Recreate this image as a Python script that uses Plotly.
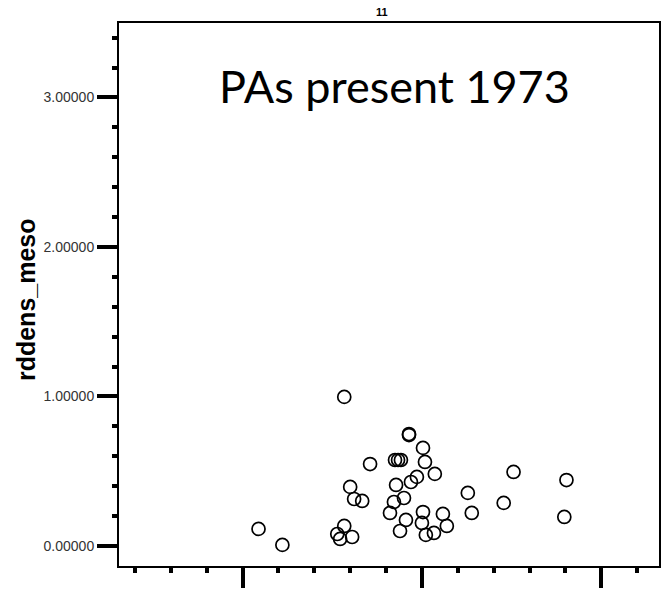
import plotly.graph_objects as go

# Scatter of road density (meso scale) against an unlabelled x variable
x_vals = [1.567, 1.089, 1.222, 1.567, 1.528, 1.544, 1.611, 1.600, 1.622, 1.667,
          1.711, 1.928, 1.928, 1.850, 1.867, 1.883, 2.006, 2.017, 2.072, 1.856,
          1.939, 1.972, 1.844, 1.900, 1.822, 1.911, 1.878, 2.006, 2.000, 2.022,
          2.067, 2.117, 2.139, 2.511, 2.806, 2.256, 2.456, 2.278, 2.794]
rddens_meso = [0.997, 0.114, 0.007, 0.134, 0.080, 0.047, 0.060, 0.395, 0.314, 0.301,
               0.548, 0.749, 0.742, 0.575, 0.575, 0.575, 0.656, 0.562, 0.482, 0.408,
               0.428, 0.462, 0.294, 0.321, 0.221, 0.174, 0.100, 0.227, 0.154, 0.074,
               0.087, 0.214, 0.134, 0.495, 0.441, 0.355, 0.288, 0.221, 0.194]

y_tick_vals = [0, 1, 2, 3]
y_tick_text = ["0.00000", "1.00000", "2.00000", "3.00000"]
x_tick_vals = [1, 2, 3]

title_text = "PAs present 1973"
y_title = "rddens_meso"

fig = go.Figure()
fig.add_trace(go.Scatter(
    x=x_vals, y=rddens_meso, mode="markers",
    marker=dict(symbol="circle-open", size=13, color="black",
                line=dict(width=1.7, color="black")),
    showlegend=False, hoverinfo="skip",
))

fig.update_layout(
    width=662, height=589,
    margin=dict(l=119, r=1, t=23, b=23),
    paper_bgcolor="white", plot_bgcolor="white",
    xaxis=dict(
        range=[0.311, 3.322], tickvals=x_tick_vals, showticklabels=False,
        ticks="outside", ticklen=20, tickwidth=4, tickcolor="black",
        minor=dict(dtick=0.2, tick0=0, ticks="outside", ticklen=5,
                   tickwidth=4, tickcolor="black"),
        showline=True, linecolor="black", linewidth=2, mirror=True,
        showgrid=False, zeroline=False,
    ),
    yaxis=dict(
        range=[-0.134, 3.498], tickvals=y_tick_vals, ticktext=y_tick_text,
        ticks="outside", ticklen=20, tickwidth=4, tickcolor="black",
        minor=dict(dtick=0.2, tick0=0, ticks="outside", ticklen=5,
                   tickwidth=4, tickcolor="black"),
        tickfont=dict(family="Liberation Sans, Arial", size=14, color="#333"),
        showline=True, linecolor="black", linewidth=2, mirror=True,
        showgrid=False, zeroline=False,
    ),
    annotations=[
        dict(text=title_text, xref="paper", yref="paper", x=0.511, y=0.884,
             xanchor="center", yanchor="middle", showarrow=False,
             font=dict(family="Lato", size=45, color="black")),
        dict(text="<b>" + y_title + "</b>", xref="paper", yref="paper",
             x=-0.172, y=0.49, xanchor="center", yanchor="middle",
             textangle=-90, showarrow=False,
             font=dict(family="Liberation Sans, Arial", size=25, color="black")),
        dict(text="<b>11</b>", xref="paper", yref="paper", x=0.487, y=1.0055,
             xanchor="center", yanchor="bottom", showarrow=False,
             font=dict(family="Liberation Sans, Arial", size=11, color="black")),
    ],
)

fig.write_html("out.html")
